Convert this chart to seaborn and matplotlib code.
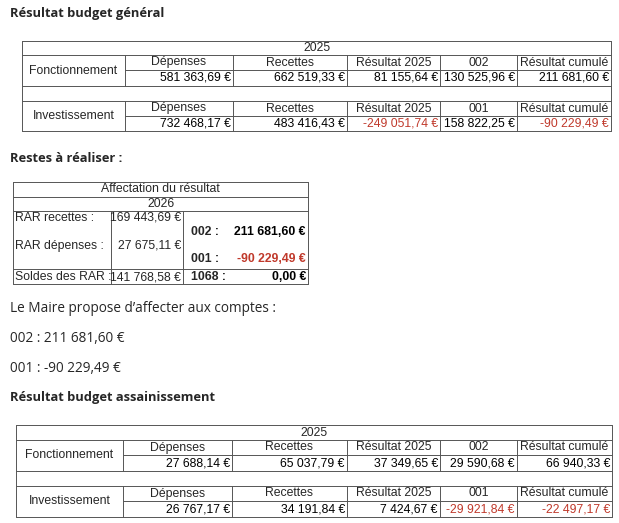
import seaborn as sns
import matplotlib.pyplot as plt

sns.set_theme(style="white")
plt.rcParams['font.family'] = ['Liberation Sans', 'DejaVu Sans']

# data
col_heads_f = ["Dépenses", "Recettes", "Résultat 2025", "002", "Résultat cumulé"]
col_heads_i = ["Dépenses", "Recettes", "Résultat 2025", "001", "Résultat cumulé"]
gen_fonct = ["581 363,69 €", "662 519,33 €", "81 155,64 €", "130 525,96 €", "211 681,60 €"]
gen_invest = ["732 468,17 €", "483 416,43 €", "-249 051,74 €", "158 822,25 €", "-90 229,49 €"]
ass_fonct = ["27 688,14 €", "65 037,79 €", "37 349,65 €", "29 590,68 €", "66 940,33 €"]
ass_invest = ["26 767,17 €", "34 191,84 €", "7 424,67 €", "-29 921,84 €", "-22 497,17 €"]
rar_labels = ["RAR recettes :", "RAR dépenses :", "Soldes des RAR :"]
rar_values = ["169 443,69 €", "27 675,11 €", "141 768,58 €"]
aff_codes = ["002 :", "001 :", "1068 :"]
aff_values = ["211 681,60 €", "-90 229,49 €", "0,00 €"]

RED = "#c0392b"
LC = "#555555"
FS = 8.8

fig = plt.figure(figsize=(6.19, 5.23), dpi=100)
ax = fig.add_axes([0, 0, 1, 1])
ax.set_xlim(0, 619)
ax.set_ylim(523, 0)
ax.axis("off")


def hl(y, x0, x1):
    ax.plot([x0, x1], [y, y], color=LC, lw=0.7)


def vl(x, y0, y1):
    ax.plot([x, x], [y0, y1], color=LC, lw=0.7)


def col(v):
    return RED if v.startswith("-") else "black"


def budget_table(xs, ys, fonct, invest):
    x0, x1 = xs[0], xs[-1]
    y = ys
    for k in [0, 1, 3, 4, 6]:
        hl(y[k], x0, x1)
    hl(y[2], xs[1], x1)
    hl(y[5], xs[1], x1)
    vl(x0, y[0], y[-1])
    vl(x1, y[0], y[-1])
    for xx in xs[1:-1]:
        vl(xx, y[1], y[3])
        vl(xx, y[4], y[6])
    ax.text((x0 + x1) / 2, (y[0] + y[1]) / 2, "2025", ha="center", va="center", fontsize=FS)
    for (ya, yb, yc), name, heads, vals in [((y[1], y[2], y[3]), "Fonctionnement", col_heads_f, fonct),
                                            ((y[4], y[5], y[6]), "Investissement", col_heads_i, invest)]:
        ax.text((xs[0] + xs[1]) / 2, (ya + yc) / 2, name, ha="center", va="center", fontsize=FS)
        for i in range(5):
            ax.text((xs[i + 1] + xs[i + 2]) / 2, (ya + yb) / 2, heads[i], ha="center", va="center", fontsize=FS)
            ax.text(xs[i + 2] - 2, (yb + yc) / 2, vals[i], ha="right", va="center", fontsize=FS, color=col(vals[i]))


body = dict(family=["Open Sans", "DejaVu Sans"])
ax.text(10, 14, "Résultat budget général", fontsize=9.3, fontweight="bold", va="center", **body)
budget_table([22, 125, 233, 347, 440, 517, 611], [41, 55, 70, 86, 101, 116, 131], gen_fonct, gen_invest)

ax.text(10, 158, "Restes à réaliser :", fontsize=9.3, fontweight="bold", va="center", **body)
# RAR table
L, R, c1, c2 = 13, 308, 111, 183
hl(182, L, R); hl(197, L, R); hl(211, L, R); hl(284, L, R)
hl(269, L, R)
vl(L, 182, 284); vl(R, 182, 284); vl(c1, 211, 284); vl(c2, 211, 284)
ax.text((L + R) / 2, 189, "Affectation du résultat", ha="center", va="center", fontsize=FS)
ax.text((L + R) / 2, 204, "2026", ha="center", va="center", fontsize=FS)
for i, yy in enumerate([218, 246, 277]):
    ax.text(L + 2, yy, rar_labels[i], ha="left", va="center", fontsize=FS)
    ax.text(c2 - 2, yy, rar_values[i], ha="right", va="center", fontsize=FS)
for i, yy in enumerate([232, 259, 277]):
    ax.text(c2 + 8, yy, aff_codes[i], ha="left", va="center", fontsize=FS, fontweight="bold")
    ax.text(R - 2, yy, aff_values[i], ha="right", va="center", fontsize=FS, fontweight="bold",
            color=col(aff_values[i]))

ax.text(10, 308, "Le Maire propose d\u2019affecter aux comptes :", fontsize=9.8, va="center", **body)
ax.text(10, 338, "002 : " + aff_values[0], fontsize=9.8, va="center", **body)
ax.text(10, 368, "001 : " + aff_values[1], fontsize=9.8, va="center", **body)

ax.text(10, 398, "Résultat budget assainissement", fontsize=9.3, fontweight="bold", va="center", **body)
budget_table([16, 123, 232, 347, 440, 517, 612], [425, 440, 455, 471, 486, 501, 517], ass_fonct, ass_invest)

fig.savefig("out.png", dpi=100, facecolor="white")
